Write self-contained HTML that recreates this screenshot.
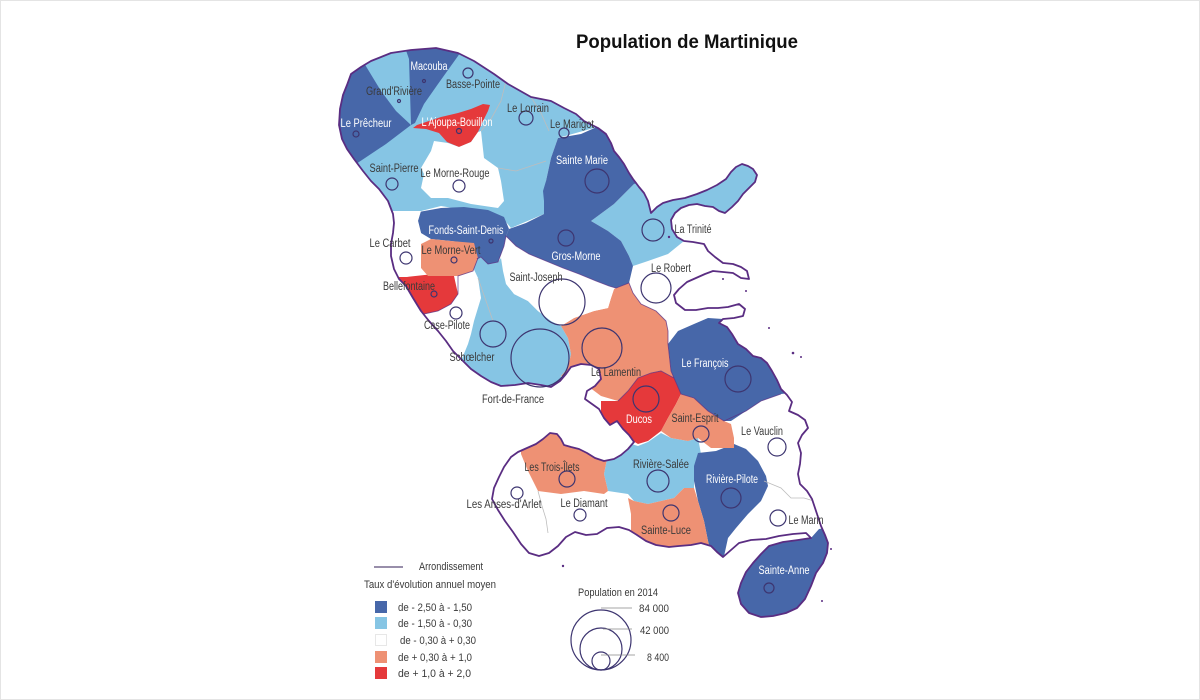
<!DOCTYPE html>
<html>
<head>
<meta charset="utf-8">
<style>
  html,body{margin:0;padding:0;background:#fff;}
  .wrap{width:1200px;height:700px;position:relative;overflow:hidden;background:#fff;box-sizing:border-box;border:1px solid #e4e4e4;}
  svg{position:absolute;left:0;top:0;}
  text{font-family:"Liberation Sans",Arial,sans-serif;}
  .lb{font-size:11.5px;fill:#3a3a3a;}
  .lw{font-size:11.5px;fill:#ffffff;}
  .lg{font-size:11px;fill:#3a3a3a;}
</style>
</head>
<body>
<div class="wrap">
<svg width="1200" height="700" viewBox="0 0 1200 700" xmlns="http://www.w3.org/2000/svg">
  <defs>
    <clipPath id="isl">
      <path id="coastp" d="M350,73 L360,66 L370,60 L390,52 L410,49 L435,47 L457,52 L473,60 L493,73 L507,83 L530,96 L550,100 L563,107 L575,113 L583,120 L597,127 L605,133 L610,142 L613,150 L618,156 L623,163 L628,172 L632,178 L638,186 L643,192 L647,200 L650,212
      L656,206 L662,202 L672,199 L684,197 L696,193 L706,189 L716,184 L725,178 L730,171 L735,166 L741,163 L747,165 L752,168 L756,174 L754,181 L748,187 L742,193 L737,200 L731,206 L724,212 L718,210 L712,206 L704,205 L696,203 L688,204 L680,207 L674,212 L670,219 L671,228 L676,236
      L683,240 L692,241 L703,243 L707,250 L714,256 L722,262 L732,263 L740,266 L746,270 L748,278 L740,277 L732,272 L722,271 L712,270 L704,273 L695,277 L686,281 L678,288 L673,294 L675,302 L684,309 L695,309 L707,307 L717,307 L727,306 L738,303 L744,308 L742,315 L733,317 L722,318 L718,322 L726,326 L731,333 L737,343 L745,348 L752,355 L760,357 L766,362 L771,370 L776,379 L780,388 L786,394 L791,401 L788,410 L797,414 L804,419 L807,427 L801,434 L797,442 L800,452 L799,463 L797,473 L799,483 L806,490 L811,498 L814,507 L817,516 L820,525 L824,534 L827,542 L826,552 L822,562 L815,572 L810,585 L804,598 L796,607 L785,612 L772,615 L760,616 L748,612 L740,603 L737,592 L740,582 L745,571 L752,562 L760,553 L768,545 L782,541 L797,539 L810,537
      L805,532 L792,533 L778,535 L765,538 L750,539 L738,542 L730,549 L722,556 L716,551 L710,545 L700,542 L690,544 L678,545 L668,546 L655,544 L645,540 L636,534 L628,529 L618,526 L606,527 L596,533 L585,534 L574,531 L565,536 L557,545 L548,552 L538,555 L528,552 L520,543 L512,531 L504,520 L497,509 L491,498 L493,487 L498,476 L503,466 L510,456 L517,451 L526,447 L535,443 L542,438 L549,432 L556,433 L560,438 L563,444 L570,446 L578,448 L586,452 L594,457 L603,460 L613,458 L620,454 L627,448 L633,441
      L628,434 L622,428 L616,420 L609,424 L603,417 L598,408 L591,403 L584,398 L586,390 L594,385 L600,378 L598,368 L590,364 L580,363 L570,366 L565,373 L559,380 L550,386 L540,384 L527,382 L514,384 L500,385 L490,381 L480,375 L470,368 L460,358 L452,350 L445,340 L437,330 L428,320 L420,310 L412,297 L405,285 L398,278 L393,268 L390,255 L390,243 L392,232 L393,222 L392,213 L387,200 L378,188 L370,180 L362,170 L353,158 L346,148 L341,138 L338,124 L339,108 L342,94 L346,84 Z"/>
    </clipPath>
  </defs>

  <!-- Title -->
  <text x="686" y="47" text-anchor="middle" textLength="222" lengthAdjust="spacingAndGlyphs" style="font-size:19px;font-weight:bold;fill:#111;">Population de Martinique</text>

  <!-- Communes (clipped to island) -->
  <g clip-path="url(#isl)" stroke="none">
    <!-- light blue bases -->
    <polygon fill="#86c5e4" points="330,30 600,30 600,125 557,137 550,157 545,180 543,213 510,227 500,215 440,205 420,210 393,213 330,215"/>
    <polygon fill="#86c5e4" points="470,262 480,256 497,261 503,253 507,240 517,255 510,270 507,283 513,293 527,300 537,310 550,320 560,325 567,337 570,353 567,367 560,375 555,400 470,400 460,360 467,343 470,333 473,320 480,297 477,277"/>
    <polygon fill="#86c5e4" points="633,183 670,150 780,140 780,225 690,232 683,240 667,253 647,260 632,265 628,255 620,240 607,230 590,220 613,203"/>
    <polygon fill="#86c5e4" points="607,453 627,442 637,445 647,441 660,432 670,437 687,440 697,437 700,453 693,470 693,487 683,487 673,497 660,500 647,503 633,500 627,493 607,490 603,473"/>

    <!-- dark blue -->
    <polygon fill="#4767a9" points="320,50 363,62 380,90 395,110 410,124 385,143 355,163 320,175"/>
    <polygon fill="#4767a9" points="400,35 470,35 457,55 437,83 423,103 414,122 410,124 408,58"/>
    <polygon fill="#4767a9" points="412,212 440,207 463,206 487,209 503,216 508,228 505,235 503,245 500,253 497,261 487,263 480,256 476,258 473,243 450,240 430,238 420,232 417,220"/>
    <polygon fill="#4767a9" points="557,137 580,133 598,125 640,110 690,160 633,183 613,203 590,220 607,230 620,240 628,255 632,265 628,282 615,287 608,285 595,280 578,273 562,267 545,260 528,253 515,245 505,235 508,228 525,222 543,213 543,200 542,190 545,180 550,157"/>
    <polygon fill="#4767a9" points="667,343 677,330 693,323 707,317 722,318 745,318 800,320 810,390 780,393 760,400 745,410 730,420 723,420 707,410 693,397 680,393 673,377 670,370"/>
    <polygon fill="#4767a9" points="697,452 715,450 733,443 745,448 757,460 765,475 767,485 760,500 747,513 735,527 727,537 722,560 712,560 707,540 703,520 697,500 693,480 693,465"/>
    <polygon fill="#4767a9" points="725,560 760,553 768,545 782,541 797,539 810,537 818,528 840,525 840,630 720,630"/>

    <!-- red -->
    <polygon fill="#e5393b" points="412,127 425,128 438,132 446,141 458,146 470,141 477,131 482,120 487,110 489,104 482,103 470,108 457,112 440,116 428,120 416,124"/>
    <polygon fill="#e5393b" points="395,276 405,276 433,273 453,275 457,293 450,303 437,310 423,313 417,310 408,300 395,300"/>
    <polygon fill="#e5393b" points="600,400 617,400 627,390 637,377 650,372 660,370 673,377 680,393 675,403 667,417 660,430 647,440 637,443 627,437 617,430 600,440"/>

    <!-- salmon -->
    <polygon fill="#ee9174" points="420,243 430,238 450,240 473,242 477,257 472,270 457,275 440,275 427,275 420,267"/>
    <polygon fill="#ee9174" points="560,325 573,317 593,310 607,307 610,297 613,288 628,282 632,292 640,303 655,310 665,320 667,330 667,343 670,370 673,377 660,370 650,372 637,377 627,390 617,400 600,395 580,380 560,375 567,367 570,353 567,337"/>
    <polygon fill="#ee9174" points="680,393 693,397 707,410 723,420 730,423 733,437 733,447 710,447 697,437 687,440 670,437 660,430 667,417 675,403"/>
    <polygon fill="#ee9174" points="520,453 527,470 537,490 560,493 583,490 603,493 607,490 603,473 607,453 600,430 520,430"/>
    <polygon fill="#ee9174" points="627,497 633,500 647,503 660,500 673,497 683,487 693,487 697,500 703,520 707,540 712,560 630,560 630,513"/>

    <!-- white overlays -->
    <polygon fill="#ffffff" points="430,150 433,140 447,142 458,146 470,141 477,131 480,130 483,157 497,167 500,180 503,200 497,207 470,203 447,197 430,197 420,187 423,173 420,167"/>
    <polygon fill="#ffffff" points="393,210 420,210 417,220 420,232 420,243 420,267 422,273 405,276 380,276 380,210"/>
    <polygon fill="#ffffff" points="505,236 515,245 528,253 545,260 562,267 578,273 595,280 608,285 613,288 610,297 607,307 593,310 573,317 560,325 550,320 537,310 527,300 513,293 505,283 502,270 500,257 503,245"/>

    <!-- faint commune boundaries -->
    <g fill="none" stroke="#bdbdbd" stroke-width="0.8">
      <polyline points="537,490 541,505 545,518 547,532"/>
      <polyline points="763,480 780,487 790,497 803,497 813,500"/>
      <polyline points="480,130 490,118 500,100 505,80"/>
      <polyline points="497,167 515,170 530,165 545,160"/>
      <polyline points="530,96 540,112 548,130"/>
      <polyline points="477,277 485,300 492,320"/>
    </g>
    <!-- arrondissement lines -->
    <g fill="none" stroke="#5a2d82" stroke-width="0.9" stroke-opacity="0.75">
      <polyline points="476,258 480,256 487,263 497,261 500,253 503,245 505,235 515,245 528,253 545,260 562,267 578,273 595,280 608,285 615,287 628,282 632,292 640,303 655,310 665,320 667,330 667,343 670,370 673,377 680,393 693,397 707,410 723,420 745,410 760,400 780,393"/>
      <polyline points="476,258 477,257 472,270 457,275 457,293 450,303 437,310 423,313 417,310"/>
      <polyline points="617,400 627,390 637,377 650,372 660,370 673,377"/>
    </g>
  </g>

  <!-- coastline -->
  <use href="#coastp" fill="none" stroke="#5a2d82" stroke-width="1.8" stroke-linejoin="round"/>
  <!-- small islets -->
  <g fill="#5a2d82">
    <circle cx="668" cy="236" r="1.2"/>
    <circle cx="722" cy="278" r="1"/>
    <circle cx="745" cy="290" r="1"/>
    <circle cx="792" cy="352" r="1.3"/>
    <circle cx="800" cy="356" r="1"/>
    <circle cx="768" cy="327" r="1"/>
    <circle cx="830" cy="548" r="1"/>
    <circle cx="821" cy="600" r="1"/>
    <circle cx="562" cy="565" r="1.2"/>
  </g>

  <!-- proportional circles -->
  <g fill="none" stroke="#3d3570" stroke-width="1.2">
    <circle cx="398" cy="100" r="1.5"/>
    <circle cx="423" cy="80" r="1.5"/>
    <circle cx="467" cy="72" r="5"/>
    <circle cx="355" cy="133" r="3"/>
    <circle cx="458" cy="130" r="2.5"/>
    <circle cx="525" cy="117" r="7"/>
    <circle cx="563" cy="132" r="5"/>
    <circle cx="596" cy="180" r="12"/>
    <circle cx="391" cy="183" r="6"/>
    <circle cx="458" cy="185" r="6"/>
    <circle cx="490" cy="240" r="2"/>
    <circle cx="565" cy="237" r="8"/>
    <circle cx="652" cy="229" r="11"/>
    <circle cx="655" cy="287" r="15"/>
    <circle cx="405" cy="257" r="6"/>
    <circle cx="453" cy="259" r="3"/>
    <circle cx="433" cy="293" r="3"/>
    <circle cx="455" cy="312" r="6"/>
    <circle cx="561" cy="301" r="23"/>
    <circle cx="492" cy="333" r="13"/>
    <circle cx="539" cy="357" r="29"/>
    <circle cx="601" cy="347" r="20"/>
    <circle cx="645" cy="398" r="13"/>
    <circle cx="737" cy="378" r="13"/>
    <circle cx="700" cy="433" r="8"/>
    <circle cx="776" cy="446" r="9"/>
    <circle cx="657" cy="480" r="11"/>
    <circle cx="730" cy="497" r="10"/>
    <circle cx="566" cy="478" r="8"/>
    <circle cx="516" cy="492" r="6"/>
    <circle cx="579" cy="514" r="6"/>
    <circle cx="670" cy="512" r="8"/>
    <circle cx="777" cy="517" r="8"/>
    <circle cx="768" cy="587" r="5"/>
  </g>

  <!-- commune labels -->
  <g>
    <text class="lw" x="428" y="69" text-anchor="middle" textLength="37" lengthAdjust="spacingAndGlyphs">Macouba</text>
    <text class="lb" x="393" y="94" text-anchor="middle" textLength="56" lengthAdjust="spacingAndGlyphs">Grand'Rivière</text>
    <text class="lb" x="472" y="87" text-anchor="middle" textLength="54" lengthAdjust="spacingAndGlyphs">Basse-Pointe</text>
    <text class="lw" x="365" y="126" text-anchor="middle" textLength="51" lengthAdjust="spacingAndGlyphs">Le Prêcheur</text>
    <text class="lw" x="456" y="125" text-anchor="middle" textLength="71" lengthAdjust="spacingAndGlyphs">L'Ajoupa-Bouillon</text>
    <text class="lb" x="527" y="111" text-anchor="middle" textLength="42" lengthAdjust="spacingAndGlyphs">Le Lorrain</text>
    <text class="lb" x="571" y="127" text-anchor="middle" textLength="44" lengthAdjust="spacingAndGlyphs">Le Marigot</text>
    <text class="lw" x="581" y="163" text-anchor="middle" textLength="52" lengthAdjust="spacingAndGlyphs">Sainte Marie</text>
    <text class="lb" x="393" y="171" text-anchor="middle" textLength="49" lengthAdjust="spacingAndGlyphs">Saint-Pierre</text>
    <text class="lb" x="454" y="176" text-anchor="middle" textLength="69" lengthAdjust="spacingAndGlyphs">Le Morne-Rouge</text>
    <text class="lw" x="465" y="233" text-anchor="middle" textLength="75" lengthAdjust="spacingAndGlyphs">Fonds-Saint-Denis</text>
    <text class="lb" x="692" y="232" text-anchor="middle" textLength="37" lengthAdjust="spacingAndGlyphs">La Trinité</text>
    <text class="lb" x="389" y="246" text-anchor="middle" textLength="41" lengthAdjust="spacingAndGlyphs">Le Carbet</text>
    <text class="lb" x="450" y="253" text-anchor="middle" textLength="59" lengthAdjust="spacingAndGlyphs">Le Morne-Vert</text>
    <text class="lw" x="575" y="259" text-anchor="middle" textLength="49" lengthAdjust="spacingAndGlyphs">Gros-Morne</text>
    <text class="lb" x="670" y="271" text-anchor="middle" textLength="40" lengthAdjust="spacingAndGlyphs">Le Robert</text>
    <text class="lb" x="535" y="280" text-anchor="middle" textLength="53" lengthAdjust="spacingAndGlyphs">Saint-Joseph</text>
    <text class="lb" x="408" y="289" text-anchor="middle" textLength="52" lengthAdjust="spacingAndGlyphs">Bellefontaine</text>
    <text class="lb" x="446" y="328" text-anchor="middle" textLength="46" lengthAdjust="spacingAndGlyphs">Case-Pilote</text>
    <text class="lb" x="471" y="360" text-anchor="middle" textLength="45" lengthAdjust="spacingAndGlyphs">Schœlcher</text>
    <text class="lw" x="704" y="366" text-anchor="middle" textLength="47" lengthAdjust="spacingAndGlyphs">Le François</text>
    <text class="lb" x="615" y="375" text-anchor="middle" textLength="50" lengthAdjust="spacingAndGlyphs">Le Lamentin</text>
    <text class="lb" x="512" y="402" text-anchor="middle" textLength="62" lengthAdjust="spacingAndGlyphs">Fort-de-France</text>
    <text class="lw" x="638" y="422" text-anchor="middle" textLength="26" lengthAdjust="spacingAndGlyphs">Ducos</text>
    <text class="lb" x="694" y="421" text-anchor="middle" textLength="47" lengthAdjust="spacingAndGlyphs">Saint-Esprit</text>
    <text class="lb" x="761" y="434" text-anchor="middle" textLength="42" lengthAdjust="spacingAndGlyphs">Le Vauclin</text>
    <text class="lb" x="551" y="470" text-anchor="middle" textLength="55" lengthAdjust="spacingAndGlyphs">Les Trois-Îlets</text>
    <text class="lb" x="660" y="467" text-anchor="middle" textLength="56" lengthAdjust="spacingAndGlyphs">Rivière-Salée</text>
    <text class="lw" x="731" y="482" text-anchor="middle" textLength="52" lengthAdjust="spacingAndGlyphs">Rivière-Pilote</text>
    <text class="lb" x="503" y="507" text-anchor="middle" textLength="75" lengthAdjust="spacingAndGlyphs">Les Anses-d'Arlet</text>
    <text class="lb" x="583" y="506" text-anchor="middle" textLength="47" lengthAdjust="spacingAndGlyphs">Le Diamant</text>
    <text class="lb" x="805" y="523" text-anchor="middle" textLength="35" lengthAdjust="spacingAndGlyphs">Le Marin</text>
    <text class="lb" x="665" y="533" text-anchor="middle" textLength="50" lengthAdjust="spacingAndGlyphs">Sainte-Luce</text>
    <text class="lw" x="783" y="573" text-anchor="middle" textLength="51" lengthAdjust="spacingAndGlyphs">Sainte-Anne</text>
  </g>

  <!-- Legend: classes -->
  <line x1="373" y1="566" x2="402" y2="566" stroke="#5a4a78" stroke-width="1.3"/>
  <text class="lg" x="418" y="569" textLength="64" lengthAdjust="spacingAndGlyphs">Arrondissement</text>
  <text class="lg" x="363" y="587" textLength="132" lengthAdjust="spacingAndGlyphs">Taux d'évolution annuel moyen</text>

  <rect x="374" y="600" width="12" height="12" fill="#4767a9"/>
  <rect x="374" y="616" width="12" height="12" fill="#86c5e4"/>
  <rect x="374.5" y="633.5" width="11" height="11" fill="#fff" stroke="#e2e2e2" stroke-width="0.8"/>
  <rect x="374" y="650" width="12" height="12" fill="#ee9174"/>
  <rect x="374" y="666" width="12" height="12" fill="#e5393b"/>

  <text class="lg" x="397" y="610" textLength="74" lengthAdjust="spacingAndGlyphs">de - 2,50  à - 1,50</text>
  <text class="lg" x="397" y="626" textLength="74" lengthAdjust="spacingAndGlyphs">de - 1,50  à - 0,30</text>
  <text class="lg" x="399" y="643" textLength="76" lengthAdjust="spacingAndGlyphs">de - 0,30  à + 0,30</text>
  <text class="lg" x="397" y="660" textLength="74" lengthAdjust="spacingAndGlyphs">de + 0,30  à + 1,0</text>
  <text class="lg" x="397" y="676" textLength="73" lengthAdjust="spacingAndGlyphs">de + 1,0  à  + 2,0</text>

  <!-- Legend: population -->
  <text class="lg" x="577" y="595" textLength="80" lengthAdjust="spacingAndGlyphs">Population en 2014</text>
  <g fill="none" stroke="#3d3570" stroke-width="1.2">
    <circle cx="600" cy="639" r="30"/>
    <circle cx="600" cy="648" r="21"/>
    <circle cx="600" cy="660" r="9"/>
  </g>
  <g stroke="#888" stroke-width="0.8">
    <line x1="600" y1="607" x2="631" y2="607"/>
    <line x1="602" y1="628" x2="631" y2="628"/>
    <line x1="600" y1="654" x2="634" y2="654"/>
  </g>
  <text class="lg" x="668" y="611" text-anchor="end" textLength="30" lengthAdjust="spacingAndGlyphs">84 000</text>
  <text class="lg" x="668" y="633" text-anchor="end" textLength="29" lengthAdjust="spacingAndGlyphs">42 000</text>
  <text class="lg" x="668" y="660" text-anchor="end" textLength="22" lengthAdjust="spacingAndGlyphs">8 400</text>
</svg>
</div>
</body>
</html>
